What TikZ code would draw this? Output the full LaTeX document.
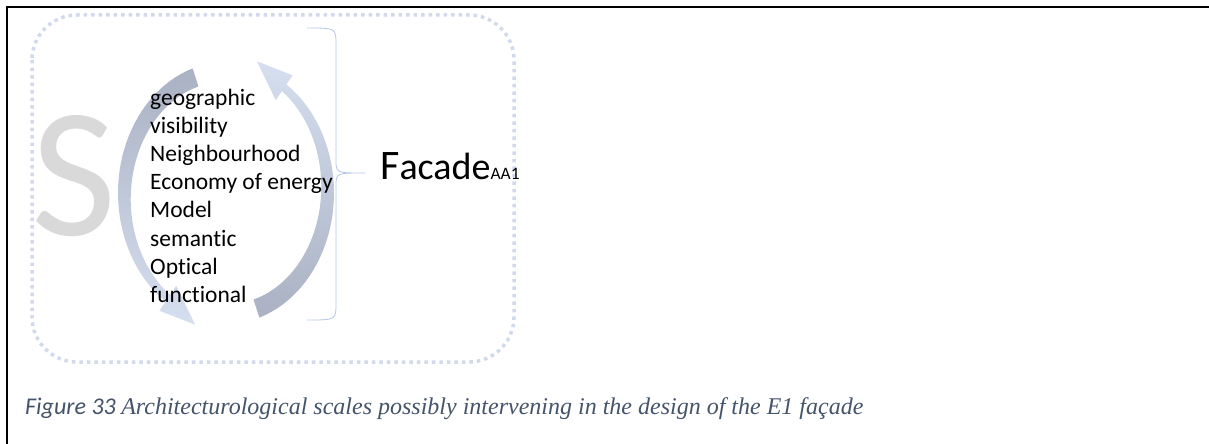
\documentclass[tikz,border=0pt]{standalone}
\usepackage{fontspec}
\setmainfont{Carlito}[Ligatures=NoCommon]
\newfontfamily\capserif{Liberation Serif}
\definecolor{arcdark}{HTML}{A9B1C2}
\definecolor{arclight}{HTML}{D6DFEF}
\definecolor{dotblue}{HTML}{D0DAEC}
\definecolor{bracecol}{HTML}{B4C7E7}
\definecolor{sgray}{HTML}{D9D9D9}
\definecolor{capcol}{HTML}{44546A}
\tikzset{
  scaleword/.style={anchor=base west, inner sep=0pt, font=\fontsize{23.5}{28}\selectfont},
  dotframe/.style={dotblue, line width=3.5pt, dash pattern=on 3.5pt off 4pt, rounded corners=45pt},
}
\begin{document}
\begin{tikzpicture}[x=1pt, y=-1pt]
\useasboundingbox (0,0) rectangle (1209,444);
\draw[line width=2pt] (7,444) -- (7,7) -- (1209,7);
\draw[dotframe] (32,15) rectangle (514,362);

\node[anchor=base west, inner sep=0pt, text=sgray, font=\fontsize{185}{185}\selectfont] (bigS) at (31,235) {S};

% circular arrows
\shade[top color=arcdark, bottom color=arclight]
  plot[domain=108:236, samples=40] ({226+108*cos(\x)},{193-131*sin(\x)})
  -- ({226+119*cos(236)},{193-142*sin(236)})
  -- ({226+112*cos(254)},{193-137*sin(254)})
  -- ({226+89*cos(236)},{193-112*sin(236)})
  -- plot[domain=236:108, samples=40] ({226+(100-11*(236-\x)/128)*cos(\x)},{193-(123-11*(236-\x)/128)*sin(\x)})
  -- cycle;
\shade[top color=arclight, bottom color=arcdark]
  plot[domain=288:416, samples=40] ({226+108*cos(\x)},{193-131*sin(\x)})
  -- ({226+119*cos(416)},{193-142*sin(416)})
  -- ({226+112*cos(434)},{193-137*sin(434)})
  -- ({226+89*cos(416)},{193-112*sin(416)})
  -- plot[domain=416:288, samples=40] ({226+(100-11*(416-\x)/128)*cos(\x)},{193-(123-11*(416-\x)/128)*sin(\x)})
  -- cycle;

\foreach \i/\word in {0/geographic,1/visibility,2/Neighbourhood,3/Economy of energy,4/Model,5/semantic,6/Optical,7/functional}
{
  \node[scaleword] (w\i) at (150,105+28.2*\i) {\word};
}

\coordinate (bracetip) at (365,173);
\draw[bracecol, line width=0.8pt] (307,28) .. controls (336,28) .. (336,45) -- (336,160)
  .. controls (336,173) .. (bracetip) .. controls (336,173) .. (336,186) -- (336,303)
  .. controls (336,320) .. (307,320);

\node[anchor=base west, inner sep=0pt] (facade) at (380,179)
  {\fontsize{42}{42}\selectfont F\fontsize{38}{38}\selectfont acade\fontsize{17.5}{17.5}\selectfont AA1};

\node[anchor=base west, inner sep=0pt, text=capcol] (caption) at (25,414)
  {\fontsize{24}{28}\selectfont\itshape Figure 33 {\capserif Architecturological scales possibly intervening in the design of the E1 façade}};
\end{tikzpicture}
\end{document}
